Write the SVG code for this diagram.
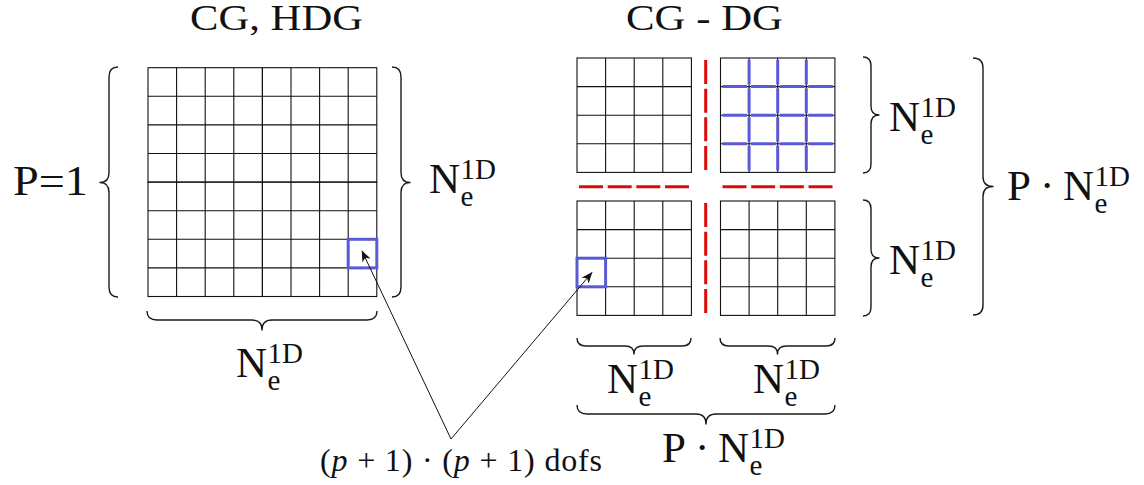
<svg xmlns="http://www.w3.org/2000/svg" xmlns:xlink="http://www.w3.org/1999/xlink" width="1144" height="485" viewBox="0 0 1144 485">
  <style>
    .t { font-family: 'Liberation Serif', 'DejaVu Serif', serif; fill: #111; }
    .title { font-size: 35px; }
    .big { font-size: 43px; }
    .sm { font-size: 29px; }
    .dofs { font-size: 32px; }
    .grid { fill: none; stroke: #111; stroke-width: 1.1; }
    .brace { fill: none; stroke: #1a1a1a; stroke-width: 1.4; stroke-linejoin: round; }
    .blue { fill: none; stroke: #5a5ad6; stroke-width: 3; }
    .red { fill: none; stroke: #dd0a0a; stroke-width: 3; stroke-dasharray: 24 4.67; }
    .arrow { fill: none; stroke: #111; stroke-width: 1; marker-end: url(#head); }
  </style>
  <defs>
    <marker id="head" markerUnits="userSpaceOnUse" markerWidth="12" markerHeight="10" refX="10.5" refY="4.5" orient="auto">
      <path d="M0,0 L11,4.5 L0,9 L3,4.5 z" fill="#111"/>
    </marker>
    <g id="grid4">
      <rect x="0" y="0" width="114.4" height="114.4" class="grid"/>
      <path class="grid" d="M28.6,0 V114.4 M57.2,0 V114.4 M85.8,0 V114.4 M0,28.6 H114.4 M0,57.2 H114.4 M0,85.8 H114.4"/>
    </g>
  </defs>

  <!-- titles -->
  <g id="title-left"><text class="t title" x="190" y="30" textLength="173" lengthAdjust="spacingAndGlyphs">CG, HDG</text></g>
  <g id="title-right"><text class="t title" x="626" y="30" textLength="157" lengthAdjust="spacingAndGlyphs">CG - DG</text></g>

  <!-- left CG/HDG grid -->
  <g id="grid-left">
    <use xlink:href="#grid4" x="148" y="67.7"/>
    <use xlink:href="#grid4" x="262.4" y="67.7"/>
    <use xlink:href="#grid4" x="148" y="182.1"/>
    <use xlink:href="#grid4" x="262.4" y="182.1"/>
    <rect class="blue" x="348.2" y="239.3" width="28.6" height="28.6"/>
  </g>

  <!-- right CG-DG subgrids -->
  <g id="grid-tl"><use xlink:href="#grid4" x="577" y="58"/></g>
  <g id="grid-tr">
    <use xlink:href="#grid4" x="720.5" y="58"/>
    <path class="blue" d="M749.1,60 V84.6 M749.1,88.6 V113.2 M749.1,117.2 V141.8 M749.1,145.8 V170.4
      M777.7,60 V84.6 M777.7,88.6 V113.2 M777.7,117.2 V141.8 M777.7,145.8 V170.4
      M806.3,60 V84.6 M806.3,88.6 V113.2 M806.3,117.2 V141.8 M806.3,145.8 V170.4
      M722.5,86.6 H747.1 M751.1,86.6 H775.7 M779.7,86.6 H804.3 M808.3,86.6 H832.9
      M722.5,115.2 H747.1 M751.1,115.2 H775.7 M779.7,115.2 H804.3 M808.3,115.2 H832.9
      M722.5,143.8 H747.1 M751.1,143.8 H775.7 M779.7,143.8 H804.3 M808.3,143.8 H832.9"/>
  </g>
  <g id="grid-bl">
    <use xlink:href="#grid4" x="577" y="201"/>
    <rect class="blue" x="577" y="258.2" width="28.6" height="28.6"/>
  </g>
  <g id="grid-br"><use xlink:href="#grid4" x="720.5" y="201"/></g>

  <!-- red dashed separators -->
  <g id="separators">
    <path class="red" d="M705.7,60 V170 M705.7,203 V313"/>
    <path class="red" d="M579,186.7 H689 M722.5,186.7 H832.5"/>
  </g>

  <!-- braces -->
  <g id="braces">
    <path class="brace" d="M118,67 Q109,67 109,77 L109,172.5 Q109,182.5 100,182.5 Q109,182.5 109,192.5 L109,287 Q109,297 118,297"/>
    <path class="brace" d="M392,67 Q401,67 401,77 L401,172.5 Q401,182.5 410,182.5 Q401,182.5 401,192.5 L401,287 Q401,297 392,297"/>
    <path class="brace" d="M147,311 Q147,320 157,320 L252,320 Q262,320 262,330 Q262,320 272,320 L367,320 Q377,320 377,311"/>
    <path class="brace" d="M863,57 Q871,57 871,66 L871,106 Q871,115 879,115 Q871,115 871,124 L871,164 Q871,173 863,173"/>
    <path class="brace" d="M863,200 Q871,200 871,209 L871,249 Q871,258 879,258 Q871,258 871,267 L871,307 Q871,316 863,316"/>
    <path class="brace" d="M973,58 Q983,58 983,68 L983,176.5 Q983,186.5 993,186.5 Q983,186.5 983,196.5 L983,305 Q983,315 973,315"/>
    <path class="brace" d="M577,338 Q577,346 586,346 L625,346 Q634,346 634,354 Q634,346 643,346 L682,346 Q691,346 691,338"/>
    <path class="brace" d="M720,338 Q720,346 729,346 L768.5,346 Q777.5,346 777.5,354 Q777.5,346 786.5,346 L826,346 Q835,346 835,338"/>
    <path class="brace" d="M577,405 Q577,414 587,414 L696,414 Q706,414 706,424 Q706,414 716,414 L825,414 Q835,414 835,405"/>
  </g>

  <!-- labels -->
  <g id="label-p1"><text class="t big" x="13" y="195" textLength="75" lengthAdjust="spacingAndGlyphs">P=1</text></g>
  <g id="label-left-right">
    <text class="t big" x="429" y="193">N<tspan class="sm" x="460.5" y="206">e</tspan><tspan class="sm" x="460.5" y="179">1D</tspan></text>
  </g>
  <g id="label-left-bottom">
    <text class="t big" x="236" y="377">N<tspan class="sm" x="267.5" y="390">e</tspan><tspan class="sm" x="267.5" y="363">1D</tspan></text>
  </g>
  <g id="label-tr">
    <text class="t big" x="889" y="131">N<tspan class="sm" x="920.5" y="144">e</tspan><tspan class="sm" x="920.5" y="117">1D</tspan></text>
  </g>
  <g id="label-br">
    <text class="t big" x="889" y="274">N<tspan class="sm" x="920.5" y="287">e</tspan><tspan class="sm" x="920.5" y="260">1D</tspan></text>
  </g>
  <g id="label-b1">
    <text class="t big" x="607" y="393">N<tspan class="sm" x="638.5" y="406">e</tspan><tspan class="sm" x="638.5" y="379">1D</tspan></text>
  </g>
  <g id="label-b2">
    <text class="t big" x="753" y="393">N<tspan class="sm" x="784.5" y="406">e</tspan><tspan class="sm" x="784.5" y="379">1D</tspan></text>
  </g>
  <g id="label-pn-right">
    <text class="t big" x="1007" y="200">P<tspan x="1040">·</tspan><tspan x="1063">N</tspan><tspan class="sm" x="1094.5" y="213">e</tspan><tspan class="sm" x="1094.5" y="186">1D</tspan></text>
  </g>
  <g id="label-pn-bottom">
    <text class="t big" x="662" y="462">P<tspan x="695">·</tspan><tspan x="718">N</tspan><tspan class="sm" x="749.5" y="475">e</tspan><tspan class="sm" x="749.5" y="448">1D</tspan></text>
  </g>
  <g id="label-dofs">
    <text class="t dofs" x="320" y="471" textLength="282" lengthAdjust="spacing">(<tspan font-style="italic">p</tspan> + 1) · (<tspan font-style="italic">p</tspan> + 1) dofs</text>
  </g>

  <!-- connectors -->
  <g id="connectors">
    <line class="arrow" x1="451" y1="439" x2="362" y2="251"/>
    <line class="arrow" x1="451" y1="439" x2="592" y2="272.5"/>
  </g>
</svg>
